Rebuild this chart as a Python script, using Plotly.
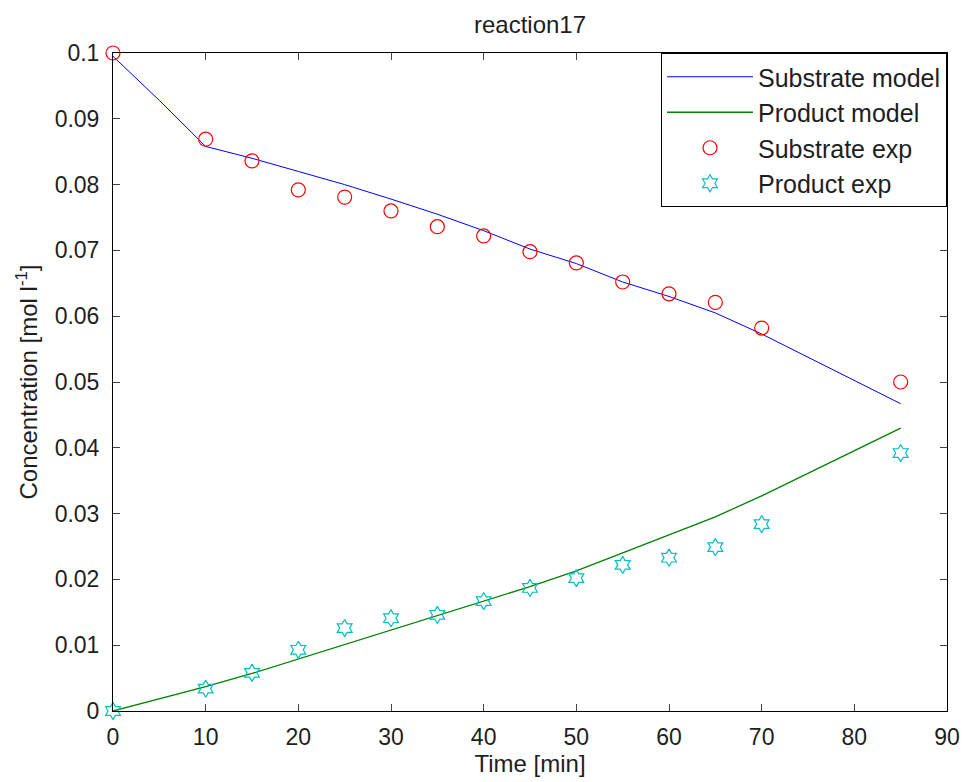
import plotly.graph_objects as go

# Model time grid and values
t_model = [0, 5, 10, 15, 20, 25, 30, 35, 40, 45, 50, 55, 60, 65, 70, 85]
substrate_model = [0.0995, 0.0928, 0.0858, 0.0840, 0.0820, 0.0800, 0.0778, 0.0755,
                   0.0730, 0.0702, 0.0680, 0.0652, 0.0630, 0.0605, 0.0573, 0.0467]
product_model = [0.0, 0.0018, 0.0037, 0.0057, 0.0079, 0.0101, 0.0123, 0.0144,
                 0.0166, 0.0189, 0.0213, 0.0240, 0.0267, 0.0295, 0.0327, 0.0430]

# Experimental data
t_exp = [0, 10, 15, 20, 25, 30, 35, 40, 45, 50, 55, 60, 65, 70, 85]
substrate_exp = [0.1000, 0.0869, 0.0836, 0.0792, 0.0781, 0.0760, 0.0736, 0.0722,
                 0.0698, 0.0681, 0.0652, 0.0634, 0.0621, 0.0582, 0.0500]
product_exp = [0.0, 0.0034, 0.0058, 0.0093, 0.0126, 0.0141, 0.0146, 0.0167,
               0.0187, 0.0202, 0.0222, 0.0233, 0.0249, 0.0284, 0.0392]

x_ticks = [0, 10, 20, 30, 40, 50, 60, 70, 80, 90]
y_ticks = [0, 0.01, 0.02, 0.03, 0.04, 0.05, 0.06, 0.07, 0.08, 0.09, 0.1]
y_tick_labels = ["0", "0.01", "0.02", "0.03", "0.04", "0.05", "0.06", "0.07", "0.08", "0.09", "0.1"]

FONT = "Liberation Sans"
TEXT = "rgb(30,30,30)"

fig = go.Figure()
fig.add_trace(go.Scatter(x=t_model, y=substrate_model, mode="lines", name="Substrate model",
                         line=dict(color="rgb(0,0,255)", width=1), legendgroup="a"))
fig.add_trace(go.Scatter(x=t_model, y=product_model, mode="lines", name="Product model",
                         line=dict(color="rgb(0,128,0)", width=1.3), legendgroup="b"))
fig.add_trace(go.Scatter(x=t_exp, y=substrate_exp, mode="markers", name="Substrate exp",
                         marker=dict(symbol="circle-open", size=14, color="rgb(255,0,0)",
                                     line=dict(width=1.2, color="rgb(255,0,0)")),
                         legendgroup="c", cliponaxis=False))
fig.add_trace(go.Scatter(x=t_exp, y=product_exp, mode="markers", name="Product exp",
                         marker=dict(symbol="hexagram-open", size=13, color="rgb(0,191,191)",
                                     line=dict(width=1.2, color="rgb(0,191,191)")),
                         legendgroup="d", cliponaxis=False))

fig.update_layout(
    width=967, height=782,
    margin=dict(l=113, r=20, t=53, b=71, autoexpand=False),
    paper_bgcolor="white", plot_bgcolor="white",
    font=dict(family=FONT, size=24, color=TEXT),
    title=dict(text="reaction17", x=(113 + 947) / 2 / 967, xanchor="center",
               y=1 - 25 / 782, yanchor="middle", font=dict(family=FONT, size=24, color=TEXT),
               automargin=False),
    showlegend=True,
    legend=dict(x=1, y=1, xanchor="right", yanchor="top",
                bordercolor="black", borderwidth=1, bgcolor="white",
                font=dict(family=FONT, size=25, color=TEXT), itemwidth=86,
                tracegroupgap=0),
    xaxis=dict(range=[0, 90], tickvals=x_ticks, ticks="inside", ticklen=7,
               ticklabelstandoff=5, tickfont=dict(size=23), automargin=False,
               showline=True, linecolor="black", linewidth=1, mirror="ticks",
               showgrid=False, zeroline=False,
               title=dict(text="Time [min]", font=dict(family=FONT, size=24, color=TEXT), standoff=4)),
    yaxis=dict(range=[0, 0.1], tickvals=y_ticks, ticktext=y_tick_labels, ticks="inside",
               ticklen=7, ticklabelstandoff=8, tickfont=dict(size=23), automargin=False,
               showline=True, linecolor="black", linewidth=1, mirror="ticks",
               showgrid=False, zeroline=False,
               title=dict(text="Concentration [mol l<sup>-1</sup>]",
                          font=dict(family=FONT, size=24, color=TEXT), standoff=10)),
)

fig.write_html("out.html")
